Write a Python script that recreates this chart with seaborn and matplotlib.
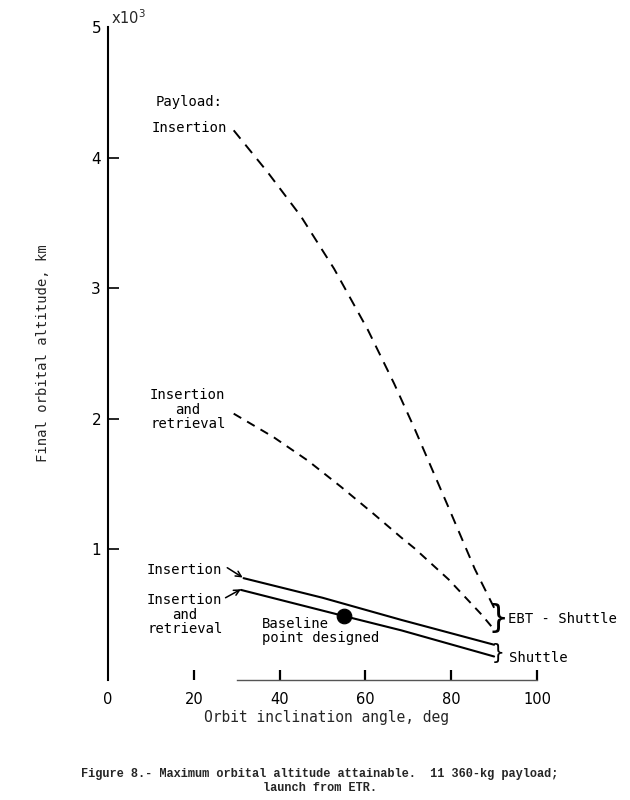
import numpy as np
import pandas as pd
import seaborn as sns
import matplotlib.pyplot as plt

# -------------------------------
# Data (altitude in 10^3 km)
# -------------------------------
ebt_ins_incl = [29.3, 37.2, 45.0, 52.7, 60.6, 66.7, 71.4, 79.4, 85.5, 90.2]
ebt_ins_alt = [4.21, 3.89, 3.55, 3.15, 2.68, 2.27, 1.93, 1.32, 0.85, 0.54]

ebt_ret_incl = [29.3, 38.6, 46.6, 54.3, 62.0, 68.4, 71.4, 79.4, 87.1, 90.4]
ebt_ret_alt = [2.04, 1.86, 1.68, 1.48, 1.27, 1.09, 1.01, 0.77, 0.50, 0.37]

shut_ins_incl = [31.6, 50.0, 68.4, 90.0]
shut_ins_alt = [0.78, 0.63, 0.46, 0.27]

shut_ret_incl = [31.0, 55.0, 68.4, 90.0]
shut_ret_alt = [0.69, 0.49, 0.38, 0.18]

baseline_incl = [55.0]
baseline_alt = [0.49]

x_ticks = [0, 20, 40, 60, 80, 100]
y_ticks = [1, 2, 3, 4, 5]

# -------------------------------
# Style
# -------------------------------
sns.set_style("ticks")
plt.rcParams['font.family'] = ['DejaVu Sans']
mono = 'DejaVu Sans Mono'
ink = 'black'

fig = plt.figure(figsize=(6.3, 8), dpi=100)
ax = fig.add_axes([0.1714, 0.15, 0.681, 0.816])

# -------------------------------
# Curves
# -------------------------------
sns.lineplot(x=ebt_ins_incl, y=ebt_ins_alt, ax=ax, color=ink, lw=1.4,
             sort=False, estimator=None).lines[-1].set_dashes((5.5, 4))
sns.lineplot(x=ebt_ret_incl, y=ebt_ret_alt, ax=ax, color=ink, lw=1.4,
             sort=False, estimator=None).lines[-1].set_dashes((4.5, 3.5))
sns.lineplot(x=shut_ins_incl, y=shut_ins_alt, ax=ax, color=ink, lw=1.5,
             sort=False, estimator=None)
sns.lineplot(x=shut_ret_incl, y=shut_ret_alt, ax=ax, color=ink, lw=1.5,
             sort=False, estimator=None)
sns.scatterplot(x=baseline_incl, y=baseline_alt, ax=ax, color=ink, s=110,
                edgecolor=ink, zorder=5)

# -------------------------------
# Axes
# -------------------------------
ax.set_xlim(0, 100)
ax.set_ylim(0, 5)
ax.set_xticks(x_ticks)
ax.set_yticks(y_ticks)
ax.set_xticklabels([str(v) for v in x_ticks], fontsize=10.5)
ax.set_yticklabels([str(v) for v in y_ticks], fontsize=11)
ax.tick_params(axis='x', direction='in', length=7, width=1.6, pad=9, colors=ink)
ax.tick_params(axis='y', direction='in', length=8, width=1.2, pad=5, colors=ink)
ax.xaxis.get_major_ticks()[0].tick1line.set_visible(False)
ax.yaxis.get_major_ticks()[-1].tick1line.set_visible(False)

sns.despine(ax=ax)
ax.spines['left'].set_linewidth(1.5)
ax.spines['left'].set_color(ink)
ax.spines['bottom'].set_bounds(30, 100)
ax.spines['bottom'].set_linewidth(1.0)
ax.spines['bottom'].set_color('#555555')
ax.set_xlabel('')
ax.set_ylabel('')

ax.text(0.51, -0.058, 'Orbit inclination angle, deg', transform=ax.transAxes,
        ha='center', va='center', family=mono, fontsize=10.5)
ax.text(-0.152, 0.50, 'Final orbital altitude, km', transform=ax.transAxes,
        ha='center', va='center', rotation=90, family=mono, fontsize=10)
ax.text(0.008, 1.0, 'x10$^{3}$', transform=ax.transAxes, ha='left', va='bottom',
        fontsize=10.5)

# -------------------------------
# Annotations
# -------------------------------
txt = dict(family=mono, fontsize=10, color=ink, clip_on=False)
ax.text(11.0, 4.43, 'Payload:', ha='left', va='center', **txt)
ax.text(27.8, 4.23, 'Insertion', ha='right', va='center', **txt)
ax.text(18.6, 2.07, 'Insertion\nand\nretrieval', ha='center', va='center',
        multialignment='center', linespacing=1.05, **txt)
ax.text(26.6, 0.84, 'Insertion', ha='right', va='center', **txt)
ax.text(17.9, 0.50, 'Insertion\nand\nretrieval', ha='center', va='center',
        multialignment='center', linespacing=1.05, **txt)
ax.text(35.9, 0.375, 'Baseline\npoint designed', ha='left', va='center',
        linespacing=1.0, **txt)

arrow = dict(arrowstyle='->', color=ink, lw=1.1, shrinkA=0, shrinkB=0)
ax.annotate('', xy=(31.4, 0.785), xytext=(27.8, 0.86), arrowprops=arrow)
ax.annotate('', xy=(31.0, 0.695), xytext=(27.4, 0.63), arrowprops=arrow)

ax.text(90.9, 0.47, '}', ha='center', va='center', family=mono, fontsize=23,
        color=ink, clip_on=False)
ax.text(93.2, 0.47, 'EBT - Shuttle', ha='left', va='center', **txt)
ax.text(90.9, 0.205, '}', ha='center', va='center', family=mono, fontsize=15,
        color=ink, clip_on=False)
ax.text(93.5, 0.17, 'Shuttle', ha='left', va='center', **txt)

fig.text(0.508, 0.024,
         'Figure 8.- Maximum orbital altitude attainable.  11 360-kg payload;\n'
         'launch from ETR.',
         ha='center', va='center', multialignment='center', linespacing=1.2,
         family='Liberation Mono', fontweight='bold', fontsize=8.6)

fig.savefig('out.png', dpi=100)
plt.close(fig)
